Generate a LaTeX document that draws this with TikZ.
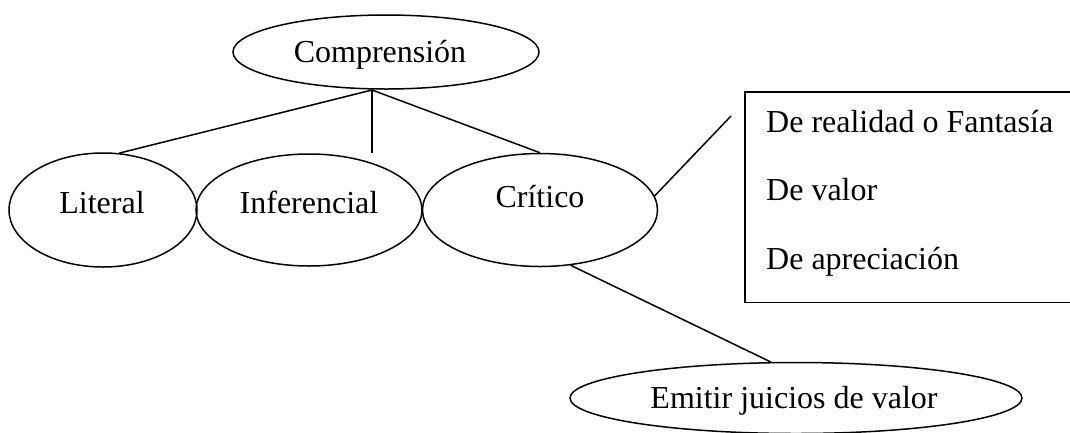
\documentclass[tikz,border=0pt]{standalone}
\usepackage{fontspec}
\setmainfont{Liberation Serif}
\usetikzlibrary{shapes.geometric}
\tikzset{
  oval/.style={draw, ellipse, inner sep=0pt, line width=1.5pt},
  lbl/.style={inner sep=0pt, anchor=base, font=\fontsize{32}{38}\selectfont},
  lblw/.style={inner sep=0pt, anchor=base west, font=\fontsize{32}{38}\selectfont},
  conn/.style={line width=1.5pt},
  framebox/.style={inner sep=0pt, anchor=north west}
}
\begin{document}
\begin{tikzpicture}[x=1pt, y=-1pt]
\useasboundingbox (0,0) rectangle (1070,432);
\clip (0,0) rectangle (1070,432);
% ellipses
\node[oval, minimum width=306pt, minimum height=74pt] (comp) at (386,52) {};
\node[lbl] (compt) at (380,62) {Comprensión};
\node[oval, minimum width=188pt, minimum height=114pt] (lit) at (103,210) {};
\node[lbl] (litt) at (102,213) {Literal};
\node[oval, minimum width=226pt, minimum height=112pt] (inf) at (309,210) {};
\node[lbl] (inft) at (309,213) {Inferencial};
\node[oval, minimum width=235pt, minimum height=113pt] (crit) at (540,210) {};
\node[lbl] (critt) at (540,207) {Crítico};
\node[oval, minimum width=452pt, minimum height=71pt] (emit) at (796,398) {};
\node[lbl] (emitt) at (794,408) {Emitir juicios de valor};
% box (right side runs off the picture)
\node[framebox, minimum width=340pt, minimum height=210pt] (box) at (745,92) {};
\draw[conn] (box.north east) -- (box.north west) -- (box.south west) -- (box.south east);
\node[lblw] (b1) at (766,132) {De realidad o Fantasía};
\node[lblw] (b2) at (766,200) {De valor};
\node[lblw] (b3) at (766,269) {De apreciación};
% connectors
\coordinate (hub) at (372,90);
\coordinate (boxpt) at (731,116);
\draw[conn] (hub) -- (lit.74);
\draw[conn] (hub) -- (hub |- inf.north);
\draw[conn] (hub) -- (crit.north);
\draw[conn] (crit.7) -- (boxpt);
\draw[conn] (crit.-61) -- (emit.125);
\end{tikzpicture}
\end{document}
